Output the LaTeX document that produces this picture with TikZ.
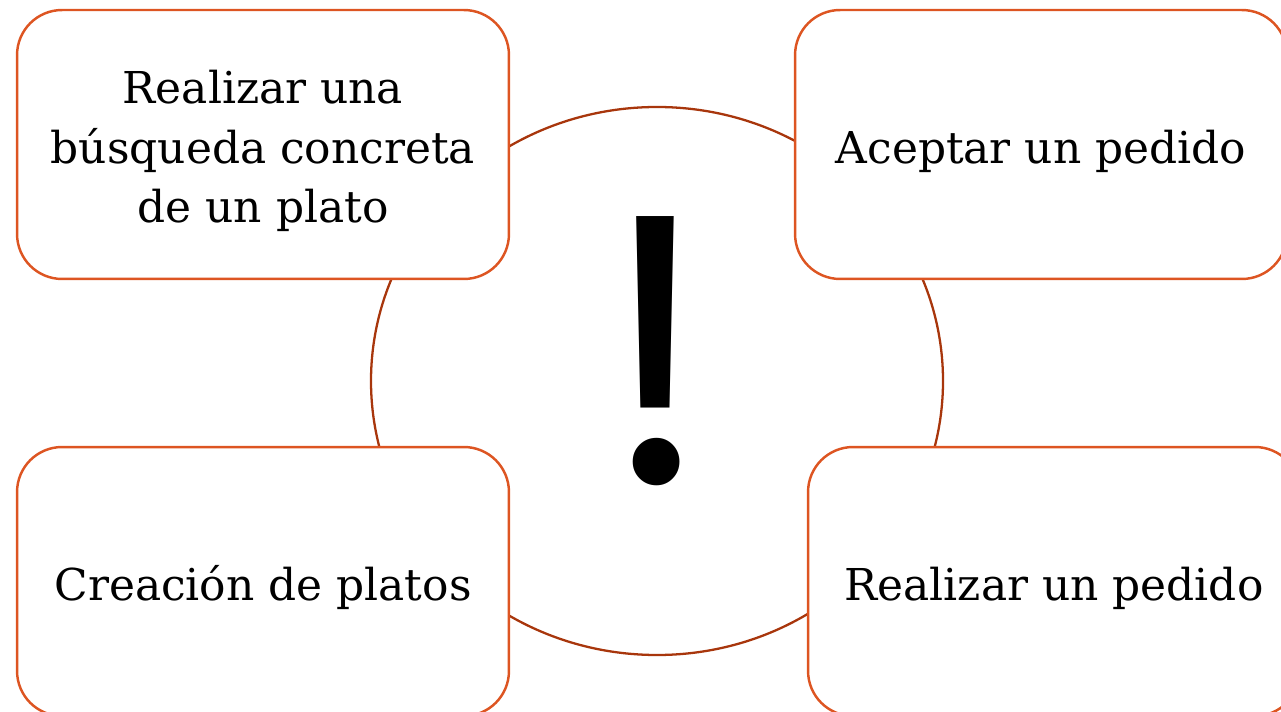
\documentclass[tikz,border=0pt]{standalone}
\usepackage{fontspec}
\setmainfont{DejaVu Serif}
\newfontfamily\bangfont{Poppins}
\usetikzlibrary{positioning}

\definecolor{boxorange}{HTML}{DD5522}
\definecolor{ringbrown}{HTML}{A8360C}

\tikzset{
  tarea/.style={draw=boxorange, line width=1.4pt, fill=white,
                rounded corners=0.9cm, minimum width=9.84cm,
                minimum height=5.38cm},
  texto/.style={align=center, yshift=-0.13cm,
                font=\fontsize{25}{34}\selectfont},
}

\begin{document}
\begin{tikzpicture}[x=0.02cm, y=-0.02cm]
  \useasboundingbox (0,0) rectangle (1281,712);

  % Ring behind the boxes
  \draw[ringbrown, line width=1.3pt] (657,381) ellipse (286 and 274);

  % Boxes
  \node[tarea, label={[texto]center:Realizar una\\búsqueda concreta\\de un plato}] (busqueda) at (263,144.5) {};
  \node[tarea, label={[texto]center:Aceptar un pedido}] (aceptar) at (1041,144.5) {};
  \node[tarea, label={[texto]center:Creación de platos}] (creacion) at (263,581.5) {};
  \node[tarea, label={[texto]center:Realizar un pedido}] (pedido) at (1054,581.5) {};

  % Exclamation mark
  \node[font=\bangfont\fontsize{218}{218}\selectfont, inner sep=0pt] (aviso) at (657,351) {!};
\end{tikzpicture}
\end{document}
